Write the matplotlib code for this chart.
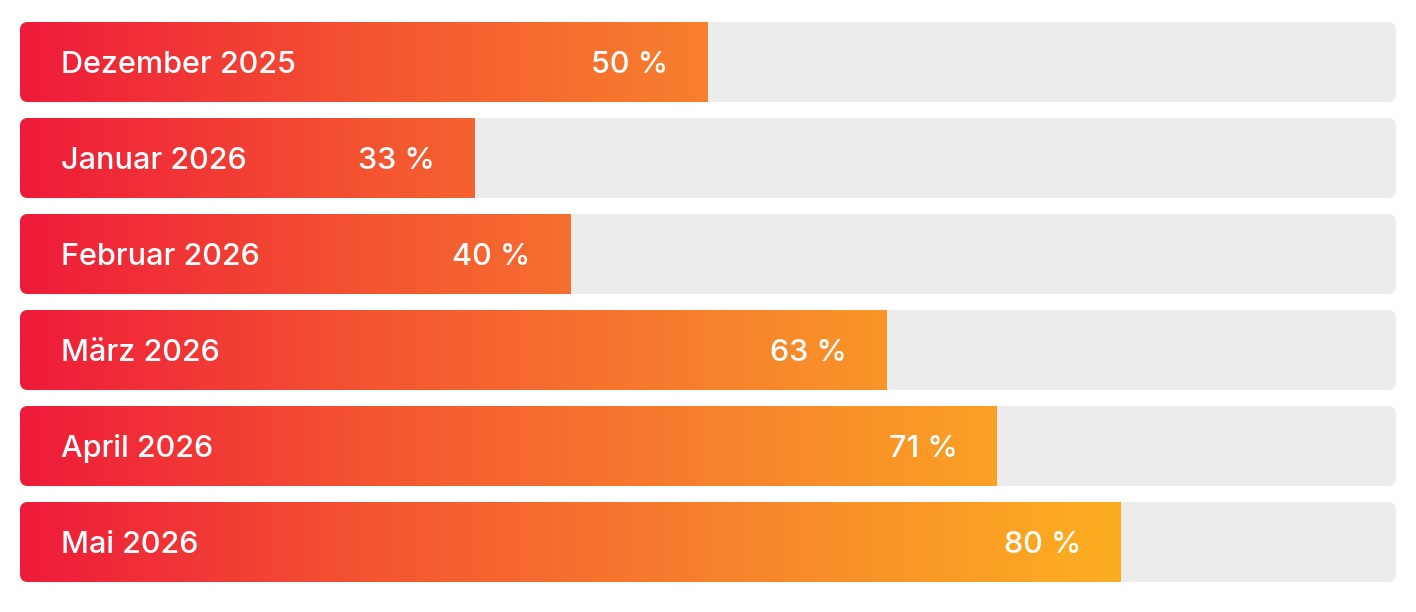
import numpy as np
import matplotlib
matplotlib.use("Agg")
import matplotlib.pyplot as plt
from matplotlib.patches import FancyBboxPatch
from matplotlib.colors import LinearSegmentedColormap

# Daten
monate = ["Dezember 2025", "Januar 2026", "Februar 2026", "März 2026", "April 2026", "Mai 2026"]
werte = [50, 33, 40, 63, 71, 80]

W, H = 1416, 612
plt.rcParams["font.family"] = ["Inter", "DejaVu Sans"]

verlauf = LinearSegmentedColormap.from_list("verlauf", [
    (0.0, "#ee1b3a"),
    (0.25, "#f45431"),
    (0.5, "#f7812d"),
    (0.75, "#fba723"),
    (1.0, "#ffc918"),
])

fig = plt.figure(figsize=(W / 100, H / 100), dpi=100)
ax = fig.add_axes([20 / W, 30 / H, 1376 / W, 560 / H])
ax.set_axis_off()

n = len(monate)
hoehe = 80 / 96
px_x = 1376 / 100        # Pixel pro Prozent
px_y = 96                # Pixel pro Zeile
radius = 8 / px_x

for i, (name, wert) in enumerate(zip(monate, werte)):
    y0 = i - hoehe / 2
    spur = FancyBboxPatch((0, y0), 100, hoehe,
                          boxstyle=f"round,pad=0,rounding_size={radius}",
                          mutation_aspect=px_x / px_y,
                          facecolor="#ececec", edgecolor="none", zorder=1)
    ax.add_patch(spur)

    xs = np.linspace(0, wert / 100, 400)
    farben = verlauf(xs)[np.newaxis, :, :3]
    img = ax.imshow(farben, extent=(0, wert, y0 + hoehe, y0), aspect="auto",
                    interpolation="bilinear", zorder=2)
    img.set_clip_path(spur)

    ax.annotate(name, (0, i), xytext=(29.5, -2), textcoords="offset points",
                va="center", ha="left", color="white", fontsize=22,
                fontweight="medium", zorder=3)
    ax.annotate(f"{wert} %", (wert, i), xytext=(-28.5, -2), textcoords="offset points",
                va="center", ha="right", color="white", fontsize=22,
                fontweight="medium", zorder=3)

ax.set_xlim(0, 100)
ax.set_ylim(n - 1 + hoehe / 2, -hoehe / 2)

fig.savefig("out.png", dpi=100, facecolor="white")
